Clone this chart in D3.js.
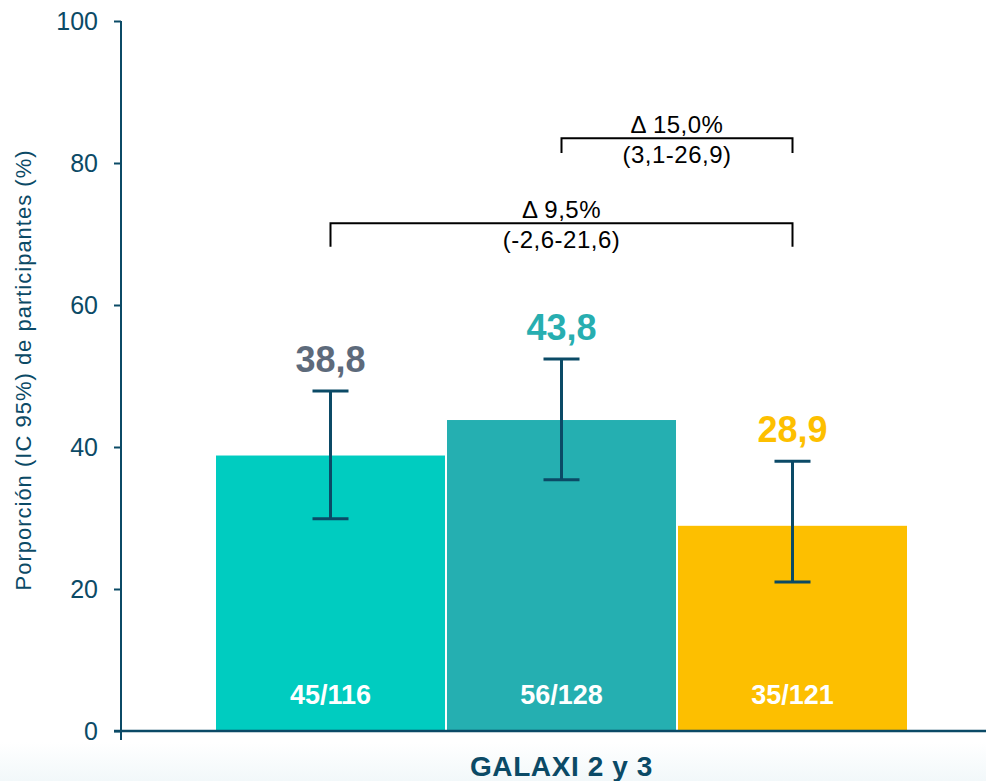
<!DOCTYPE html>
<html>
<head>
<meta charset="utf-8">
<script src="https://cdn.jsdelivr.net/npm/d3@7"></script>
<style>
  body { margin: 0; background: #fff; }
  svg { display: block; font-family: Arial, "Liberation Sans", sans-serif; }
</style>
</head>
<body>
<div id="svgContainer"></div>
<script>
// data
const groupLabel = 'GALAXI 2 y 3'
const series = ['A', 'B', 'C']
const values = [38.8, 43.8, 28.9]
const ciLow = [29.9, 35.4, 21.0]
const ciHigh = [47.9, 52.4, 38.0]
const counts = ['45/116', '56/128', '35/121']
const yTicks = [0, 20, 40, 60, 80, 100]
const yTitle = 'Porporción (IC 95%) de participantes (%)'

// comparisons between bars (index from / to), bracket line and tick ends in y units
const compFrom = [1, 0]
const compTo = [2, 2]
const compLine = [83.5, 71.5]
const compTickEnd = [81.4, 68.2]
const compDelta = ['Δ 15,0%', 'Δ 9,5%']
const compCI = ['(3,1-26,9)', '(-2,6-21,6)']

const barColors = ['#00ccc0', '#25afb1', '#fdbf00']
const labelColors = ['#5d6a7b', '#27aeb0', '#fdbf00']
const dark = '#0b4a66'

const w = 986,
      h = 781

const y = d3.scaleLinear()
            .domain([0, 100])
            .range([731, 21])

const x = d3.scaleBand()
            .domain(series)
            .range([216, 907])
            .paddingInner(0.0087)

const cx = (i) => x(series[i]) + x.bandwidth() / 2
const fmt = (v) => v.toFixed(1).replace('.', ',')

const svg = d3.select('#svgContainer')
              .append('svg')
              .attr('width', w)
              .attr('height', h)

// faint tint at the bottom
const defs = svg.append('defs')
const grad = defs.append('linearGradient')
                 .attr('id', 'bottomTint')
                 .attr('x1', 0).attr('y1', 0).attr('x2', 0).attr('y2', 1)
grad.append('stop').attr('offset', '0%').attr('stop-color', '#ffffff')
grad.append('stop').attr('offset', '100%').attr('stop-color', '#f2f8fa')
svg.append('rect')
   .attr('x', 0).attr('y', 742)
   .attr('width', w).attr('height', h - 742)
   .attr('fill', 'url(#bottomTint)')

// bars
svg.selectAll('rect.bar')
   .data(values)
   .enter()
   .append('rect')
   .attr('class', 'bar')
   .attr('x', (d, i) => x(series[i]))
   .attr('y', (d) => y(d))
   .attr('width', x.bandwidth())
   .attr('height', (d) => y(0) - y(d))
   .attr('fill', (d, i) => barColors[i])

// error bars
const err = svg.selectAll('g.err')
               .data(values)
               .enter()
               .append('g')
               .attr('class', 'err')
               .attr('stroke', dark)
               .attr('stroke-width', 3)

err.append('line')
   .attr('x1', (d, i) => cx(i)).attr('x2', (d, i) => cx(i))
   .attr('y1', (d, i) => y(ciLow[i])).attr('y2', (d, i) => y(ciHigh[i]))
err.append('line')
   .attr('x1', (d, i) => cx(i) - 18).attr('x2', (d, i) => cx(i) + 18)
   .attr('y1', (d, i) => y(ciHigh[i])).attr('y2', (d, i) => y(ciHigh[i]))
err.append('line')
   .attr('x1', (d, i) => cx(i) - 18).attr('x2', (d, i) => cx(i) + 18)
   .attr('y1', (d, i) => y(ciLow[i])).attr('y2', (d, i) => y(ciLow[i]))

// value labels above the error bars
svg.selectAll('text.val')
   .data(values)
   .enter()
   .append('text')
   .attr('class', 'val')
   .attr('x', (d, i) => cx(i))
   .attr('y', (d, i) => y(ciHigh[i]) - 19)
   .attr('text-anchor', 'middle')
   .attr('font-size', 36)
   .attr('font-weight', 'bold')
   .attr('fill', (d, i) => labelColors[i])
   .text((d) => fmt(d))

// n/N inside bars
svg.selectAll('text.count')
   .data(counts)
   .enter()
   .append('text')
   .attr('class', 'count')
   .attr('x', (d, i) => cx(i))
   .attr('y', y(0) - 27)
   .attr('text-anchor', 'middle')
   .attr('font-size', 27)
   .attr('font-weight', 'bold')
   .attr('fill', '#fff')
   .text((d) => d)

// comparison brackets
compFrom.forEach((from, k) => {
  const x1 = cx(from),
        x2 = cx(compTo[k]),
        yl = y(compLine[k]),
        yt = y(compTickEnd[k])
  svg.append('path')
     .attr('d', `M${x1},${yt}V${yl}H${x2}V${yt}`)
     .attr('fill', 'none')
     .attr('stroke', '#000')
     .attr('stroke-width', 2)
  svg.append('text')
     .attr('x', (x1 + x2) / 2)
     .attr('y', yl - 5)
     .attr('text-anchor', 'middle')
     .attr('font-size', 24)
     .attr('letter-spacing', 0.5)
     .attr('fill', '#000')
     .text(compDelta[k])
  svg.append('text')
     .attr('x', (x1 + x2) / 2)
     .attr('y', yl + 25)
     .attr('text-anchor', 'middle')
     .attr('font-size', 24)
     .attr('letter-spacing', 0.5)
     .attr('fill', '#000')
     .text(compCI[k])
})

// y axis
const yAxis = svg.append('g')
                 .attr('transform', 'translate(121, 0)')
                 .call(d3.axisLeft(y).tickValues(yTicks).tickSize(7).tickPadding(16).tickSizeOuter(0))
yAxis.select('.domain').remove()
yAxis.selectAll('line').attr('stroke', dark).attr('stroke-width', 2)
yAxis.selectAll('text')
     .attr('font-size', 25)
     .attr('font-family', 'Arial, "Liberation Sans", sans-serif')
     .attr('fill', dark)

svg.append('line')
   .attr('x1', 121).attr('x2', 121)
   .attr('y1', y(100)).attr('y2', 740)
   .attr('stroke', dark)
   .attr('stroke-width', 2)

// x axis line
svg.append('line')
   .attr('x1', 114).attr('x2', w)
   .attr('y1', y(0)).attr('y2', y(0))
   .attr('stroke', dark)
   .attr('stroke-width', 2.5)

svg.append('text')
   .attr('x', (x.range()[0] + x.range()[1]) / 2)
   .attr('y', 776)
   .attr('text-anchor', 'middle')
   .attr('font-size', 28)
   .attr('font-weight', 'bold')
   .attr('letter-spacing', 0.6)
   .attr('fill', dark)
   .text(groupLabel)

// y axis title
svg.append('text')
   .attr('transform', 'translate(31, 370) rotate(-90)')
   .attr('text-anchor', 'middle')
   .attr('font-size', 22)
   .attr('letter-spacing', 1)
   .attr('fill', dark)
   .text(yTitle)
</script>
</body>
</html>
